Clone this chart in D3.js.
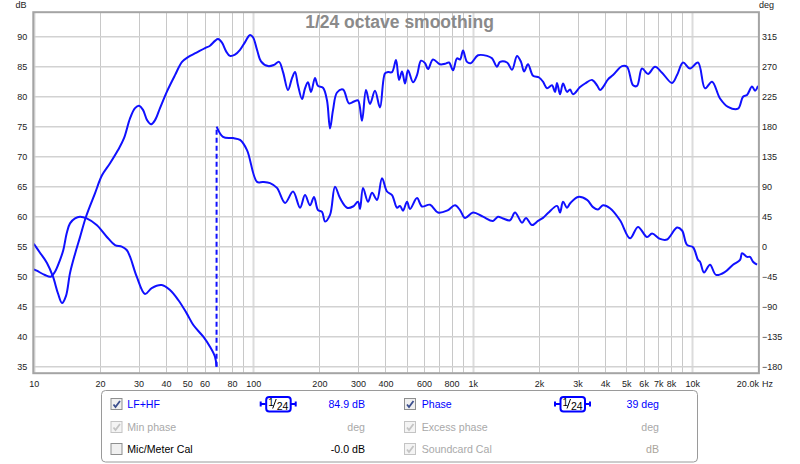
<!DOCTYPE html>
<html><head><meta charset="utf-8">
<script src="https://cdn.jsdelivr.net/npm/d3@7"></script>
<style>
html,body{margin:0;padding:0;background:#fff;}
svg{display:block;font-family:"Liberation Sans",Arial,sans-serif;}
</style></head><body>
<svg id="chart" width="800" height="464"></svg>
<script>
// ---------- data ----------
const splFreq=[10,10.67,11.48,12.23,12.89,13.45,14.02,14.62,15.41,16.24,17.29,19.0,20.45,22.25,24.19,25.76,27.44,28.92,30.16,31.44,32.81,34.2,35.67,37.58,40.45,43.99,47.34,50.41,54.83,60.26,63.5,66.9,69.06,72.0,75.1,78.3,82.5,87.0,91.7,96.6,99.7,104,108.4,116.7,124.3,131,136.6,143.9,150.1,154.9,159.8,166.7,172,177.5,183.2,191,197.1,207.7,216.6,223.6,230.8,240.6,256.3,272.9,287.6,299.9,312.7,326.1,340.1,358.4,377.7,398.1,410.9,428.5,446.8,461.1,475.9,491.1,506.8,534.1,556.9,580.8,605.7,625,658.7,708.9,747,779,812.5,847.3,874.4,902.4,941,981.3,1056,1161,1223,1289,1330,1432,1509,1590,1658,1712,1784,1881,2003,2088,2178,2295,2369,2419,2497,2576,2687,2773,2861,3080,3245,3492,3680,3798,3919,4130,4353,4783,5041,5370,5598,5900,6284,6762,7278,8085,8520,9070,9761,10616,11428,12295,13373,14545,16150,17022,17750,18707,19304,19924];
const splDb=[55.5,54.0,52.3,50.0,47.2,45.6,46.8,50.6,53.8,56.6,60.0,63.9,66.9,68.9,71.1,73.1,76.4,78.1,78.5,77.8,76.1,75.4,76.1,78.1,80.9,83.6,85.8,86.6,87.3,88.1,88.5,89.3,89.6,89.0,87.6,86.8,87.0,87.8,89.1,90.3,89.9,87.8,85.9,85.1,85.3,85.8,84.1,81.1,83.1,84.1,81.9,79.6,81.4,82.4,80.8,83.1,81.8,81.5,79.4,74.7,77.8,80.7,81.2,78.9,79.2,79.4,76.0,81.1,78.8,81.0,78.2,83.9,84.1,84.1,86.1,82.8,84.2,82.2,84.4,82.4,83.6,86.0,85.6,84.6,86.2,85.4,85.5,85.7,84.4,86.4,86.2,87.7,85.8,85.6,86.9,86.8,86.4,85.0,85.8,85.7,84.5,86.8,85.8,84.2,85.4,83.5,83.2,82.5,81.4,81.9,80.8,82.3,80.4,82.2,80.8,81.2,80.4,81.6,82.2,82.8,81.9,81.1,81.6,82.9,83.6,85.1,85.0,81.9,81.8,84.7,83.8,85.0,84.0,82.3,83.6,85.7,84.7,85.7,81.4,82.5,79.7,78.3,78.0,80.0,80.3,81.7,81.0,81.8];
const phaseFreq=[10,10.31,11.24,11.94,12.49,13.16,13.63,14.12,14.62,15.41,16.24,17.42,19.34,21.48,23.44,25.15,26.5,27.44,29.44,32.12,34.45,38.25,41.72,45.52,49.73,53.31,59.18,63.48,66.9,68.0,68.05,72.78,80.85,87.0,93.6,104.0,110.7,119.2,128.2,139.5,151.7,163.3,172.0,181.3,189.0,197.1,205.6,212.2,223.6,235.6,248.3,267.3,284.6,299.9,306.3,316.1,333.1,347.4,366.1,385.8,406.5,428.5,451.5,466,480.9,501.5,517.5,556.9,586.9,638.3,694.1,762.8,829.6,874.4,921.5,1002,1113,1236,1302,1373,1477,1557,1676,1747,1861,1982,2088,2201,2419,2497,2576,2687,2773,3015,3314,3529,3719,3919,4218,4684,5203,5656,6219,6553,7128,7670,8520,8978,9460,10074,10616,10841,11307,12037,12823,14093,15322,16499,16848,17750,18315,18900,19716];
const phaseDeg=[-34,-36,-42.5,-45,-37.5,-20,-5,20,35,42.5,45,42.5,32.5,15,2.5,0,-5,-15,-45,-71,-62,-57.5,-65,-80,-100,-117.5,-135,-150,-165,-180,180,164.7,162.9,160.2,144.9,97.2,97.2,95.4,88.2,65.7,82.8,58.5,77.4,62.1,74.7,54.9,52.2,37.8,47.7,90,72.9,58.5,60.3,67.5,56.7,88.2,67.5,81,70.2,102.6,82.8,77.4,58.5,61.2,54,67.5,56.7,72.9,60.3,63,51.3,54,62.1,54.9,43.2,51.3,45,38.7,45,42.3,39.6,51.3,36,43.2,32.4,38.7,43.2,50.4,61.2,51.3,67.5,58.5,64.8,74.7,70.2,59.4,55.8,62.1,57.6,39.6,12.6,29.7,14.4,19.8,11.7,10.8,28.8,24.3,2.7,-0.9,-19.8,-22.5,-38.7,-27,-42.3,-37.8,-27,-19.8,-9.9,-15.3,-15.3,-22.5,-27];

const freqTickValues=[10,20,30,40,50,60,80,100,200,300,400,600,800,1000,2000,3000,4000,5000,6000,7000,8000,10000,20000];
const freqTickLabels=["10","20","30","40","50","60","80","100","200","300","400","600","800","1k","2k","3k","4k","5k","6k","7k","8k","10k","20.0k"];
const dbTicks=[35,40,45,50,55,60,65,70,75,80,85,90];
const degTicks=[-180,-135,-90,-45,0,45,90,135,180,225,270,315];
const titleText="1/24 octave smoothing";

const legendLeft=[
 {label:"LF+HF",value:"84.9 dB",check:"on",color:"#0000ff",vcolor:"#0000ff",smooth:true},
 {label:"Min phase",value:"deg",check:"dis",color:"#a9a9a9",vcolor:"#a9a9a9"},
 {label:"Mic/Meter Cal",value:"-0.0 dB",check:"off",color:"#000",vcolor:"#000"}
];
const legendRight=[
 {label:"Phase",value:"39 deg",check:"on",color:"#0000ff",vcolor:"#0000ff",smooth:true},
 {label:"Excess phase",value:"deg",check:"dis",color:"#a9a9a9",vcolor:"#a9a9a9"},
 {label:"Soundcard Cal",value:"dB",check:"dis",color:"#a9a9a9",vcolor:"#aaa49c"}
];

// ---------- layout ----------
const P={l:33.8,r:758.4,t:12.7,b:372.7};
const svg=d3.select("#chart");
const x=d3.scaleLog().domain([10,20000]).range([P.l,P.r]);
const yDb=d3.scaleLinear().domain([34,94]).range([P.b,P.t]);
const yPh=d3.scaleLinear().domain([-189,351]).range([P.b,P.t]);
const lineColor="#1010ff";

svg.append("rect").attr("x",P.l).attr("y",P.t).attr("width",P.r-P.l).attr("height",P.b-P.t).attr("fill","#fff");

// grid
const gridF=x.ticks();
const decades=[10,100,1000,10000];
const g=svg.append("g");
g.selectAll("line.v").data(gridF).join("line")
 .attr("x1",d=>Math.round(x(d))+0.5).attr("x2",d=>Math.round(x(d))+0.5)
 .attr("y1",P.t).attr("y2",P.b)
 .attr("stroke",d=>decades.includes(d)?"#dcdcdc":"#c8c8c8")
 .attr("stroke-width",d=>decades.includes(d)?2:1);
g.selectAll("line.h").data(dbTicks).join("line")
 .attr("x1",P.l).attr("x2",P.r)
 .attr("y1",d=>yDb(d)).attr("y2",d=>yDb(d))
 .attr("stroke","#d2d2d2").attr("stroke-width",1.5);

// title
svg.append("text").attr("x",399.5).attr("y",27.5).attr("text-anchor","middle")
 .attr("font-size","17.5px").attr("font-weight","bold").attr("fill","#8a8a8a").text(titleText);

// curves
const line=d3.line().curve(d3.curveCatmullRom.alpha(0.5));
const splPts=splFreq.map((f,i)=>[x(f),yDb(splDb[i])]);
svg.append("path").attr("d",line(splPts)).attr("fill","none").attr("stroke",lineColor).attr("stroke-width",2);

// phase segments split at wraps
const segs=[];let cur=[];const wraps=[];
phaseFreq.forEach((f,i)=>{
  if(i>0 && Math.abs(phaseDeg[i]-phaseDeg[i-1])>180){
    segs.push(cur);cur=[];
    wraps.push([[x(phaseFreq[i-1]),yPh(phaseDeg[i-1])],[x(f),yPh(phaseDeg[i])]]);
  }
  cur.push([x(f),yPh(phaseDeg[i])]);
});
segs.push(cur);
segs.forEach(s=>svg.append("path").attr("d",line(s)).attr("fill","none").attr("stroke",lineColor).attr("stroke-width",2));
wraps.forEach(w=>svg.append("path").attr("d",d3.line()(w)).attr("fill","none").attr("stroke",lineColor).attr("stroke-width",2).attr("stroke-dasharray","5,3"));

// frame
svg.append("rect").attr("x",P.l-0.5).attr("y",P.t-0.5).attr("width",P.r-P.l+1).attr("height",P.b-P.t+1)
 .attr("fill","none").attr("stroke","#a4a4a4").attr("stroke-width",2);

// axes
const axFont="9px";
const ax=svg.append("g").attr("transform",`translate(0,${P.b})`)
 .call(d3.axisBottom(x).tickValues(freqTickValues).tickFormat((d,i)=>freqTickLabels[i]).tickSize(0).tickPadding(8));
ax.select(".domain").remove();
ax.selectAll("text").attr("font-size",axFont).attr("font-family","Liberation Sans, Arial, sans-serif").attr("fill","#222");
ax.selectAll(".tick").filter(d=>d===20000).select("text").attr("text-anchor","end").attr("x",0);
svg.append("text").attr("x",762).attr("y",387).attr("font-size",axFont).attr("fill","#222").text("Hz");

const al=svg.append("g").attr("transform",`translate(${P.l},0)`)
 .call(d3.axisLeft(yDb).tickValues(dbTicks).tickSize(0).tickPadding(6.5));
al.select(".domain").remove();
al.selectAll("text").attr("font-size",axFont).attr("font-family","Liberation Sans, Arial, sans-serif").attr("fill","#222");
const ar=svg.append("g").attr("transform",`translate(${P.r},0)`)
 .call(d3.axisRight(yPh).tickValues(degTicks).tickSize(0).tickPadding(3.5));
ar.select(".domain").remove();
ar.selectAll("text").attr("font-size",axFont).attr("font-family","Liberation Sans, Arial, sans-serif").attr("fill","#222");
svg.append("text").attr("x",26.5).attr("y",8).attr("text-anchor","end").attr("font-size",axFont).attr("fill","#222").text("dB");
svg.append("text").attr("x",759).attr("y",8).attr("font-size",axFont).attr("fill","#222").text("deg");

// legend
svg.append("rect").attr("x",101.5).attr("y",390.5).attr("width",596).attr("height",71.5).attr("rx",4)
 .attr("fill","#fff").attr("stroke","#9a9a9a");
const rowsY=[404,427,449];
function checkbox(cx,cy,state){
  const gg=svg.append("g");
  gg.append("rect").attr("x",cx+0.5).attr("y",cy-5.5).attr("width",11).attr("height",11)
   .attr("fill",state==="dis"?"#f4f4f4":"#f0f0f0")
   .attr("stroke",state==="dis"?"#c4c4c4":"#8e8f8f");
  if(state!=="off"){
    gg.append("path").attr("d",`M${cx+3},${cy+0.5} L${cx+5},${cy+3} L${cx+9.5},${cy-3}`)
     .attr("fill","none").attr("stroke",state==="on"?"#3c4f8e":"#c4c4c4").attr("stroke-width",1.8);
  }
}
function smoothIcon(lx,cy){
  const gg=svg.append("g");
  gg.append("path").attr("d",`M${lx},${cy-2.5}V${cy+2.5}M${lx},${cy}H${lx+5}M${lx+30},${cy}H${lx+35}M${lx+35},${cy-2.5}V${cy+2.5}`)
   .attr("stroke","#0000ff").attr("stroke-width",2).attr("fill","none");
  gg.append("rect").attr("x",lx+5.5).attr("y",cy-7).attr("width",24.5).attr("height",14.5).attr("rx",3)
   .attr("fill","#fff").attr("stroke","#0000ff").attr("stroke-width",2);
  gg.append("text").attr("x",lx+7.5).attr("y",cy+1.5).attr("font-size","10px").attr("fill","#000").text("1");
  gg.append("line").attr("x1",lx+12).attr("y1",cy+4.5).attr("x2",lx+15.5).attr("y2",cy-5)
   .attr("stroke","#000").attr("stroke-width",1);
  gg.append("text").attr("x",lx+16).attr("y",cy+5.5).attr("font-size","10.5px").attr("fill","#000").text("24");
}
function legendCol(items,cbx,labx,iconx,valx){
  items.forEach((it,i)=>{
    const cy=rowsY[i];
    checkbox(cbx,cy,it.check);
    svg.append("text").attr("x",labx).attr("y",cy+4).attr("font-size","10.6px").attr("fill",it.color).text(it.label);
    if(it.smooth) smoothIcon(iconx,cy);
    svg.append("text").attr("x",valx).attr("y",cy+4).attr("text-anchor","end").attr("font-size","10.6px").attr("fill",it.vcolor).text(it.value);
  });
}
legendCol(legendLeft,110.5,127.3,260.7,365);
legendCol(legendRight,404,421.7,555,659);
</script>
</body></html>
